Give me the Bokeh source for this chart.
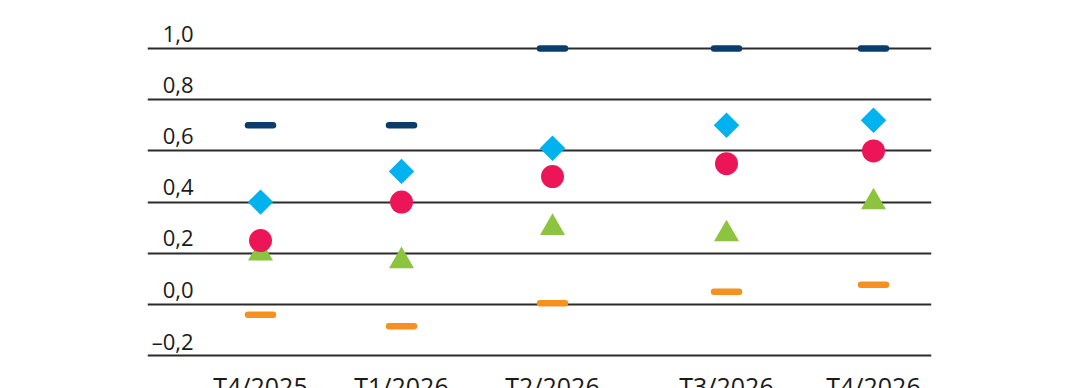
from bokeh.plotting import figure
from bokeh.models import Range1d, FixedTicker, ColumnDataSource, Grid
from bokeh.core.properties import value
from bokeh.embed import file_html
from bokeh.resources import INLINE
import numpy as np

# ---- data ----
quarters = ["T4/2025", "T1/2026", "T2/2026", "T3/2026", "T4/2026"]
high_dash = [0.70, 0.70, 1.00, 1.00, 1.00]
diamond_vals = [0.40, 0.52, 0.61, 0.70, 0.72]
circle_vals = [0.25, 0.40, 0.50, 0.55, 0.60]
triangle_vals = [0.20, 0.17, 0.30, 0.275, 0.40]
low_dash = [-0.04, -0.085, 0.005, 0.05, 0.077]
y_ticks = [-0.2, 0.0, 0.2, 0.4, 0.6, 0.8, 1.0]
y_tick_labels = ["–0,2", "0,0", "0,2", "0,4", "0,6", "0,8", "1,0"]

# ---- layout (horizontal positions of the quarters, in frame units) ----
x_pos = [260, 401, 552, 726, 873]
FONT = "Open Sans"
INK = "#1a1a1a"

p = figure(width=1064, height=388, output_backend="svg", toolbar_location=None,
           x_axis_type=None, y_axis_type=None,
           x_range=Range1d(147, 931), y_range=Range1d(-0.328, 1.1875),
           min_border_left=147, min_border_right=133,
           min_border_top=0, min_border_bottom=0)
p.outline_line_color = None
p.background_fill_color = "white"
p.border_fill_color = "white"

p.add_layout(Grid(dimension=1, ticker=FixedTicker(ticks=y_ticks),
                  grid_line_color="#2b2b2b", grid_line_width=1.8))

src = ColumnDataSource(dict(x=x_pos, hi=high_dash, dia=diamond_vals, cir=circle_vals,
                            tri=triangle_vals, lo=low_dash))

p.scatter("x", "hi", source=src, marker="dash", size=25, line_width=6.5,
          line_cap="round", line_color="#0a3d6b")
p.scatter("x", "lo", source=src, marker="dash", size=25, line_width=6.5,
          line_cap="round", line_color="#f7901e")
p.scatter("x", "tri", source=src, marker="triangle", size=25, line_color=None,
          fill_color="#8cc43f")
p.scatter("x", "cir", source=src, marker="circle", size=23, line_color=None,
          fill_color="#ec1558")
p.scatter("x", "dia", source=src, marker="square", size=18, angle=np.pi / 4,
          line_color=None, fill_color="#00b3ee")

# y tick labels sit above their grid lines, inside the frame
ylab = ColumnDataSource(dict(x=[193] * len(y_ticks), y=y_ticks, t=y_tick_labels))
p.text("x", "y", text="t", source=ylab, text_align="right", text_baseline="alphabetic",
       y_offset=-15, text_font=value(FONT), text_font_size="22px", text_color=INK)

# category labels under the lowest grid line
xlab = ColumnDataSource(dict(x=x_pos, y=[y_ticks[0]] * len(x_pos), t=quarters))
p.text("x", "y", text="t", source=xlab, text_align="center", text_baseline="alphabetic",
       y_offset=30, text_font=value(FONT), text_font_size="25px", text_color=INK)

open("out.html", "w").write(file_html(p, INLINE))
